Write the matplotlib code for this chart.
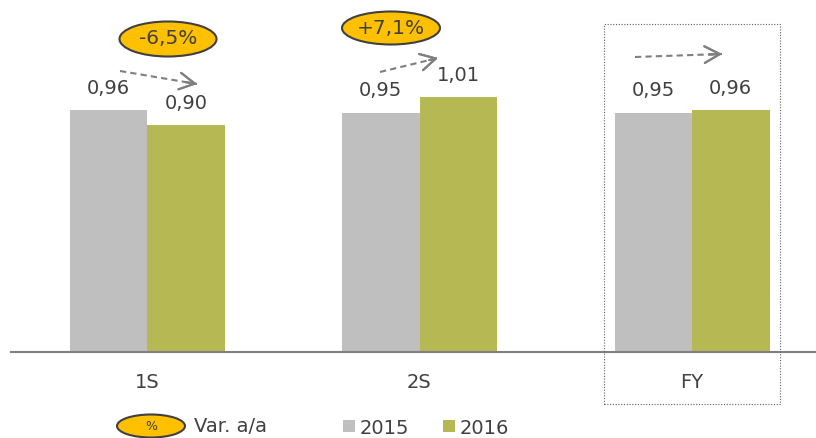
import matplotlib.pyplot as plt
from matplotlib.patches import Ellipse, Rectangle

# chart data
categories = ['1S', '2S', 'FY']
values_2015 = [0.96, 0.95, 0.95]
values_2016 = [0.90, 1.01, 0.96]
var_labels = ['-6,5%', '+7,1%', None]
series_names = ['2015', '2016']

GRAY = '#bfbfbf'
GREEN = '#b5b853'
TEXT = '#404040'
ARROW = '#7f7f7f'
W, H = 816, 438


def px(x, y):
    # pixel position (top-left origin) -> figure fraction
    return x / W, 1 - y / H


def fmt(v):
    return f'{v:.2f}'.replace('.', ',')


fig = plt.figure(figsize=(W / 100, H / 100), dpi=100)
ax = fig.add_axes([11 / W, 1 - 352 / H, 1 - 11 / W, 352 / H])

step = 272.5
bw = 77.5 / step
xs = list(range(len(categories)))
b1 = ax.bar([x - bw / 2 for x in xs], values_2015, bw, color=GRAY)
b2 = ax.bar([x + bw / 2 for x in xs], values_2016, bw, color=GREEN)
ax.set_xlim((11 - 147) / step, (816 - 147) / step)
ax.set_ylim(0, 352 / 252)

for bars, vals in ((b1, values_2015), (b2, values_2016)):
    for rect, v in zip(bars, vals):
        ax.annotate(fmt(v), (rect.get_x() + rect.get_width() / 2, v),
                    xytext=(0, 9), textcoords='offset points',
                    ha='center', va='bottom', fontsize=14, color=TEXT)

for s in ['top', 'right', 'left']:
    ax.spines[s].set_visible(False)
ax.spines['bottom'].set_color('#808080')
ax.spines['bottom'].set_linewidth(1.5)
ax.set_yticks([])
ax.set_xticks(xs)
ax.set_xticklabels(categories, fontsize=14, color=TEXT)
ax.tick_params(axis='x', length=0, pad=15)

# dotted box around FY
fig.patches.append(Rectangle(px(604, 404), 176 / W, 380 / H, transform=fig.transFigure,
                             fill=False, ec='#606060', lw=0.8, ls=(0, (1, 1.5))))

# variation ellipses
ell_pos = [(168, 39, 97, 35), (391, 28, 98, 33)]
for (cx, cy, ew, eh), lab in zip(ell_pos, var_labels):
    fx, fy = px(cx, cy)
    fig.patches.append(Ellipse((fx, fy), ew / W, eh / H, transform=fig.transFigure,
                               fc='#ffc000', ec='#404040', lw=1.5))
    fig.text(fx, fy, lab, ha='center', va='center', fontsize=14.5, color=TEXT)

# dashed arrows
arrows = [((120, 71), (197, 84)), ((380, 72), (438, 58)), ((635, 57), (722, 54))]
for (x0, y0), (x1, y1) in arrows:
    fig.add_artist(plt.Line2D([px(x0, y0)[0], px(x1, y1)[0]], [px(x0, y0)[1], px(x1, y1)[1]],
                              transform=fig.transFigure, color=ARROW, lw=1.5, ls=(0, (3, 2))))
    tx = x1 - (x1 - x0) * 0.15
    ty = y1 - (y1 - y0) * 0.15
    fig.add_artist(plt.annotate('', xy=px(x1, y1), xytext=px(tx, ty), xycoords='figure fraction',
                                arrowprops=dict(arrowstyle='->,head_length=1.1,head_width=0.6',
                                                color=ARROW, lw=1.5, shrinkA=0, shrinkB=0)))

# legend
lx, ly = px(151, 426)
fig.patches.append(Ellipse((lx, ly), 68 / W, 23 / H, transform=fig.transFigure,
                           fc='#ffc000', ec='#404040', lw=1.5))
fig.text(lx, ly, '%', ha='center', va='center', fontsize=9, color=TEXT)
fig.text(*px(194, 427), 'Var. a/a', ha='left', va='center', fontsize=14, color=TEXT)
for sx, col, name in ((343, GRAY, series_names[0]), (443, GREEN, series_names[1])):
    fig.patches.append(Rectangle(px(sx, 432), 12 / W, 12 / H, transform=fig.transFigure,
                                 fc=col, ec='none'))
    fig.text(*px(sx + 17, 428), name, ha='left', va='center', fontsize=14, color=TEXT)

fig.savefig('out.png', dpi=100)
